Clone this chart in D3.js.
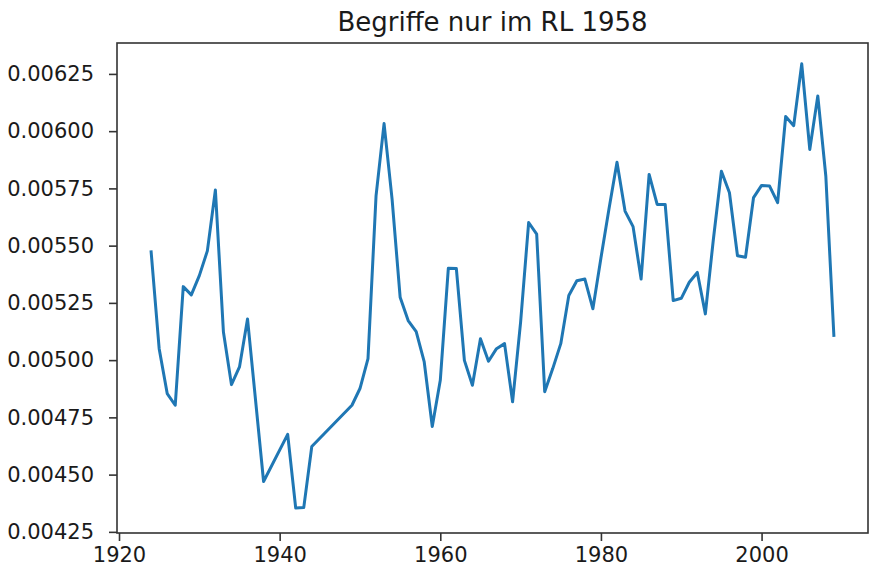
<!DOCTYPE html>
<html>
<head>
<meta charset="utf-8">
<script src="https://cdn.jsdelivr.net/npm/d3@7"></script>
<style>
  body { margin: 0; background: #fff; }
  text { font-family: "DejaVu Sans", sans-serif; fill: #1a1a1a; }
</style>
</head>
<body>
<div class="chart"></div>
<script>
var margin = {top: 43, right: 2, bottom: 42, left: 117};
var width = 870 - margin.left - margin.right;
var height = 575 - margin.top - margin.bottom;

// years with a value (war years partly missing)
let years = [
  1924, 1925, 1926, 1927, 1928, 1929, 1930, 1931, 1932, 1933, 1934, 1935, 1936,
  1938, 1941, 1942, 1943, 1944, 1949, 1950, 1951, 1952, 1953, 1954, 1955, 1956,
  1957, 1958, 1959, 1960, 1961, 1962, 1963, 1964, 1965, 1966, 1967, 1968, 1969,
  1970, 1971, 1972, 1973, 1974, 1975, 1976, 1977, 1978, 1979, 1980, 1981, 1982,
  1983, 1984, 1985, 1986, 1987, 1988, 1989, 1990, 1991, 1992, 1993, 1994, 1995,
  1996, 1997, 1998, 1999, 2000, 2001, 2002, 2003, 2004, 2005, 2006, 2007, 2008, 2009
];

let values = [
  0.005473, 0.00505, 0.004854, 0.004803, 0.005321, 0.005285, 0.005369, 0.005477, 0.005743, 0.005123, 0.004893, 0.00497, 0.00518,
  0.00447, 0.004676, 0.004354, 0.004356, 0.004623, 0.004803, 0.004876, 0.005007, 0.005717, 0.006033, 0.005702, 0.005275, 0.005173,
  0.005124, 0.004992, 0.00471, 0.004912, 0.005401, 0.0054, 0.004999, 0.00489, 0.005093, 0.004995, 0.00505, 0.005072, 0.004818,
  0.005166, 0.005601, 0.00555, 0.004862, 0.004963, 0.005072, 0.005282, 0.005347, 0.005354, 0.005224, 0.005446, 0.00566, 0.005864,
  0.005651, 0.005583, 0.005354, 0.005811, 0.00568, 0.00568, 0.00526, 0.00527, 0.00534, 0.005383, 0.005202, 0.005528, 0.005825,
  0.005731, 0.005456, 0.005449, 0.00571, 0.005763, 0.00576, 0.005688, 0.006064, 0.006024, 0.006294, 0.00592, 0.006154, 0.005803, 0.005108
];

let xTicks = [1920, 1940, 1960, 1980, 2000];
let yTicks = [0.00425, 0.0045, 0.00475, 0.005, 0.00525, 0.0055, 0.00575, 0.006, 0.00625];

let xLimits = [1919.75, 2013.25];
let yLimits = [0.004245, 0.006385];

let title = 'Begriffe nur im RL 1958';

let data = years.map((y, i) => ({year: y, value: values[i]}));

let svg = d3.select('.chart')
  .append('svg')
  .attr('width', width + margin.left + margin.right)
  .attr('height', height + margin.top + margin.bottom)
  .append('g')
  .attr('transform', `translate(${margin.left}, ${margin.top})`)
;

//scales

let xScale = d3.scaleLinear()
  .domain(xLimits)
  .range([0, width]);

let yScale = d3.scaleLinear()
  .domain(yLimits)
  .range([height, 0]);

let xAxis = d3.axisBottom(xScale)
  .tickValues(xTicks)
  .tickFormat(d3.format('d'))
  .tickSizeInner(8)
  .tickSizeOuter(0)
  .tickPadding(6);

let yAxis = d3.axisLeft(yScale)
  .tickValues(yTicks)
  .tickFormat(d3.format('.5f'))
  .tickSizeInner(8)
  .tickSizeOuter(0)
  .tickPadding(15);

let gx = svg.append('g')
  .attr('transform', `translate(0, ${height})`)
  .call(xAxis);

let gy = svg.append('g')
  .call(yAxis);

[gx, gy].forEach(g => {
  g.select('.domain').remove();
  g.selectAll('.tick line').attr('stroke', '#333').attr('stroke-width', 1.6);
  g.selectAll('.tick text')
    .style('font-family', '"DejaVu Sans", sans-serif')
    .style('font-size', '21px')
    .attr('fill', '#1a1a1a');
});

//scales END

let line = d3.line()
  .x(d => xScale(d.year))
  .y(d => yScale(d.value));

svg.append('path')
  .datum(data)
  .attr('d', line)
  .attr('fill', 'none')
  .attr('stroke', '#1f77b4')
  .attr('stroke-width', 3)
  .attr('stroke-linejoin', 'round')
  .attr('stroke-linecap', 'square');

// frame
svg.append('rect')
  .attr('width', width)
  .attr('height', height)
  .attr('fill', 'none')
  .attr('stroke', '#333')
  .attr('stroke-width', 1.6);

svg.append('text')
  .attr('x', width / 2)
  .attr('y', -12)
  .style('text-anchor', 'middle')
  .style('font-size', '26px')
  .text(title);
</script>
</body>
</html>
